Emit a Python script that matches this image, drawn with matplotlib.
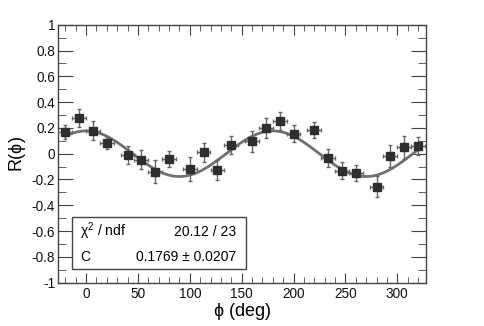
import numpy as np
import matplotlib
matplotlib.use("Agg")
import matplotlib.pyplot as plt
from matplotlib.ticker import MultipleLocator
from matplotlib.patches import Rectangle

plt.rcParams['font.family'] = ['Liberation Sans', 'DejaVu Sans']

# measured points
phi = [-20, -6.7, 6.7, 20, 40, 53.3, 66.7, 80, 100, 113.3, 126.7, 140,
       160, 173.3, 186.7, 200, 220, 233.3, 246.7, 260, 280, 293.3, 306.7, 320]
r_val = [0.168, 0.277, 0.18, 0.083, -0.008, -0.047, -0.14, -0.041, -0.119, 0.01, -0.124, 0.065,
         0.095, 0.2, 0.256, 0.155, 0.184, -0.034, -0.132, -0.15, -0.256, -0.02, 0.049, 0.062]
r_err = [0.055, 0.07, 0.07, 0.05, 0.07, 0.075, 0.09, 0.06, 0.09, 0.075, 0.078, 0.07,
         0.08, 0.08, 0.07, 0.065, 0.065, 0.067, 0.065, 0.065, 0.08, 0.085, 0.088, 0.07]
phi_err = [6.67] * len(phi)

# fit result: R = C cos(2 phi)
fit_C = 0.1769
fit_C_err = 0.0207
chi2 = 20.12
ndf = 23

fig = plt.figure(figsize=(4.85, 3.26), dpi=100)
ax = fig.add_axes([0.1196, 0.133, 0.7584, 0.791])

xf = np.linspace(-20, 320, 400)
ax.plot(xf, fit_C * np.cos(np.radians(2 * xf)), color='#707070', lw=2.0, zorder=2)

ax.errorbar(phi, r_val, yerr=r_err, xerr=phi_err, fmt='s', color='#2e2e2e',
            ecolor='#666666', elinewidth=1.0, capsize=1.6, capthick=1.0,
            markersize=5.3, zorder=3)

ax.set_xlim(-27, 327.5)
ax.set_ylim(-1, 1)
ax.xaxis.set_major_locator(MultipleLocator(50))
ax.xaxis.set_minor_locator(MultipleLocator(10))
ax.yaxis.set_major_locator(MultipleLocator(0.2))
ax.yaxis.set_minor_locator(MultipleLocator(0.1))
ax.set_yticks(np.arange(-1, 1.01, 0.2))
ax.set_yticklabels(['-1', '-0.8', '-0.6', '-0.4', '-0.2', '0', '0.2', '0.4', '0.6', '0.8', '1'])

ax.tick_params(axis='both', which='both', direction='in', top=True, right=True,
               color='#444444', labelsize=9.8, labelcolor='#111111')
ax.tick_params(axis='x', which='major', length=7.5, pad=3)
ax.tick_params(axis='x', which='minor', length=4)
ax.tick_params(axis='y', which='major', length=10.5, pad=2)
ax.tick_params(axis='y', which='minor', length=5.5)
for s in ax.spines.values():
    s.set_color('#444444')
    s.set_linewidth(1.0)

ax.set_xlabel(r'$\mathregular{\phi}$ (deg)', fontsize=13, labelpad=0)
ax.set_ylabel(r'R($\mathregular{\phi}$)', fontsize=13, labelpad=3)

# stats box
ax.add_patch(Rectangle((0.038, 0.052), 0.472, 0.204, transform=ax.transAxes,
                       fill=True, facecolor='white', edgecolor='#444444', lw=1.0, zorder=4))
ax.text(0.06, 0.198, r'$\mathregular{\chi^2}$ / ndf', transform=ax.transAxes,
        fontsize=10, va='center', ha='left', zorder=5)
ax.text(0.485, 0.198, f'{chi2:.2f} / {ndf}', transform=ax.transAxes,
        fontsize=10, va='center', ha='right', zorder=5)
ax.text(0.06, 0.098, 'C', transform=ax.transAxes,
        fontsize=10, va='center', ha='left', zorder=5)
ax.text(0.485, 0.098, f'{fit_C:.4f} \u00b1 {fit_C_err:.4f}', transform=ax.transAxes,
        fontsize=10, va='center', ha='right', zorder=5)

fig.savefig('out.png', dpi=100)
